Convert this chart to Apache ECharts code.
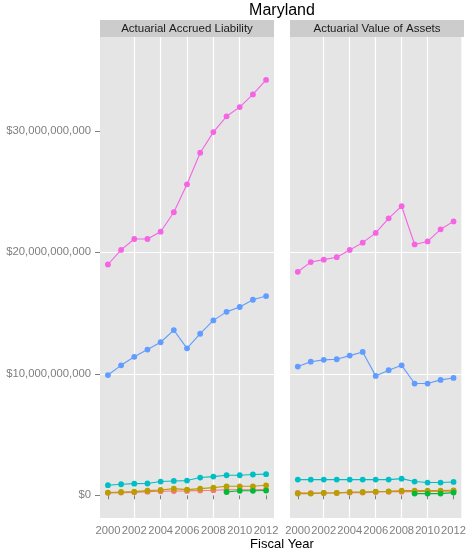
<!DOCTYPE html>
<html>
<head>
<meta charset="utf-8">
<script src="https://cdn.jsdelivr.net/npm/echarts@6/dist/echarts.min.js"></script>
<style>
  html, body { margin: 0; padding: 0; background: #fff; }
  #main { width: 469px; height: 555px; }
</style>
</head>
<body>
<div id="main"></div>
<script>
// values in billions of dollars
var years = [2000, 2001, 2002, 2003, 2004, 2005, 2006, 2007, 2008, 2009, 2010, 2011, 2012];
var yTicks = [0, 10, 20, 30];
var xTicks = [2000, 2002, 2004, 2006, 2008, 2010, 2012];
var panels = ['Actuarial Accrued Liability', 'Actuarial Value of Assets'];
var groupNames = ['Group 1', 'Group 2', 'Group 3', 'Group 4', 'Group 5', 'Group 6'];
var groupColors = ['#F8766D', '#B79F00', '#00BA38', '#00BFC4', '#619CFF', '#F564E3'];

// Actuarial Accrued Liability
var liabRed   = [0.20, 0.22, 0.24, 0.30, 0.33, 0.35, 0.36, 0.40, 0.42, 0.45, 0.45, 0.45, 0.47];
var liabOlive = [0.22, 0.27, 0.30, 0.38, 0.44, 0.55, 0.47, 0.55, 0.63, 0.74, 0.74, 0.74, 0.82];
var liabGreen = [null, null, null, null, null, null, null, null, null, 0.27, 0.37, 0.37, 0.39];
var liabCyan  = [0.83, 0.91, 0.96, 0.97, 1.13, 1.18, 1.21, 1.46, 1.54, 1.65, 1.65, 1.71, 1.74];
var liabBlue  = [9.9, 10.7, 11.4, 12.0, 12.6, 13.6, 12.1, 13.3, 14.4, 15.1, 15.5, 16.1, 16.4];
var liabPink  = [19.0, 20.2, 21.1, 21.1, 21.7, 23.3, 25.6, 28.2, 29.9, 31.2, 31.96, 33.0, 34.2];

// Actuarial Value of Assets
var assetRed   = [0.20, 0.18, 0.19, 0.20, 0.22, 0.22, 0.28, 0.30, 0.30, 0.30, 0.32, 0.33, 0.34];
var assetOlive = [0.14, 0.14, 0.19, 0.19, 0.27, 0.27, 0.30, 0.33, 0.38, 0.38, 0.38, 0.38, 0.41];
var assetGreen = [null, null, null, null, null, null, null, null, null, 0.14, 0.14, 0.14, 0.22];
var assetCyan  = [1.29, 1.29, 1.29, 1.29, 1.29, 1.29, 1.29, 1.29, 1.37, 1.13, 1.05, 1.05, 1.10];
var assetBlue  = [10.6, 11.0, 11.15, 11.2, 11.5, 11.8, 9.83, 10.3, 10.7, 9.2, 9.2, 9.5, 9.66];
var assetPink  = [18.4, 19.2, 19.4, 19.6, 20.2, 20.8, 21.6, 22.8, 23.8, 20.65, 20.9, 21.9, 22.55];

var panelData = [
    [liabRed, liabOlive, liabGreen, liabCyan, liabBlue, liabPink],
    [assetRed, assetOlive, assetGreen, assetCyan, assetBlue, assetPink]
];

var FONT = '"Liberation Sans", Arial, Helvetica, sans-serif';
var GREY = '#7F7F7F';

var panelLeft = [100, 290];
var panelWidth = 174;
var panelTop = 37;
var panelHeight = 481;

function pairs(vals) {
    var out = [];
    for (var i = 0; i < years.length; i++) {
        out.push([years[i], vals[i]]);
    }
    return out;
}

function dollars(v) {
    return '$' + Math.round(v * 1e9).toLocaleString('en-US');
}

var grids = [], xAxes = [], yAxes = [], series = [], graphics = [];

panels.forEach(function (name, p) {
    grids.push({
        left: panelLeft[p], top: panelTop, width: panelWidth, height: panelHeight,
        show: true, backgroundColor: '#E5E5E5', borderWidth: 0
    });
    xAxes.push({
        type: 'value', gridIndex: p,
        min: 1999.4, max: 2012.6,
        minInterval: 2, maxInterval: 2,
        axisLine: { show: false },
        axisTick: { show: true, length: 4, customValues: xTicks, lineStyle: { color: GREY, width: 1 } },
        axisLabel: {
            customValues: xTicks, color: GREY, fontFamily: FONT, fontSize: 11.2, margin: 7,
            formatter: function (v) { return String(v); }
        },
        splitLine: { show: true, showMinLine: false, showMaxLine: false, lineStyle: { color: '#FFFFFF', width: 1.2 } }
    });
    yAxes.push({
        type: 'value', gridIndex: p,
        min: -1.87, max: 37.73,
        minInterval: 10, maxInterval: 10,
        axisLine: { show: false },
        axisTick: { show: p === 0, length: 5, customValues: yTicks, lineStyle: { color: GREY, width: 1 } },
        axisLabel: {
            show: p === 0, customValues: yTicks, color: GREY, fontFamily: FONT, fontSize: 11.3, margin: 9,
            formatter: dollars
        },
        splitLine: { show: true, showMinLine: false, showMaxLine: false, lineStyle: { color: '#FFFFFF', width: 1.2 } }
    });

    panelData[p].forEach(function (vals, g) {
        series.push({
            name: groupNames[g],
            type: 'line',
            xAxisIndex: p, yAxisIndex: p,
            data: pairs(vals),
            symbol: 'circle', symbolSize: 5.8,
            showSymbol: true,
            connectNulls: false,
            color: groupColors[g],
            lineStyle: { width: 1.1 },
            itemStyle: { opacity: 1 },
            emphasis: { disabled: true },
            animation: false
        });
    });

    // facet strip
    graphics.push({
        type: 'rect',
        shape: { x: panelLeft[p], y: 20, width: panelWidth, height: 17 },
        style: { fill: '#CCCCCC' }
    });
    graphics.push({
        type: 'text',
        x: panelLeft[p] + panelWidth / 2, y: 28.5,
        style: { text: name, fill: '#1A1A1A', font: '11.5px ' + FONT, align: 'center', verticalAlign: 'middle' }
    });
});

graphics.push({
    type: 'text', x: 282, y: 11,
    style: { text: 'Maryland', fill: '#000', font: '16px ' + FONT, align: 'center', verticalAlign: 'middle' }
});
graphics.push({
    type: 'text', x: 282, y: 544,
    style: { text: 'Fiscal Year', fill: '#000', font: '13px ' + FONT, align: 'center', verticalAlign: 'middle' }
});

var myChart = echarts.init(document.getElementById('main'));
var option = {
    backgroundColor: '#FFFFFF',
    animation: false,
    grid: grids,
    xAxis: xAxes,
    yAxis: yAxes,
    series: series,
    graphic: graphics
};
myChart.setOption(option);
</script>
</body>
</html>
